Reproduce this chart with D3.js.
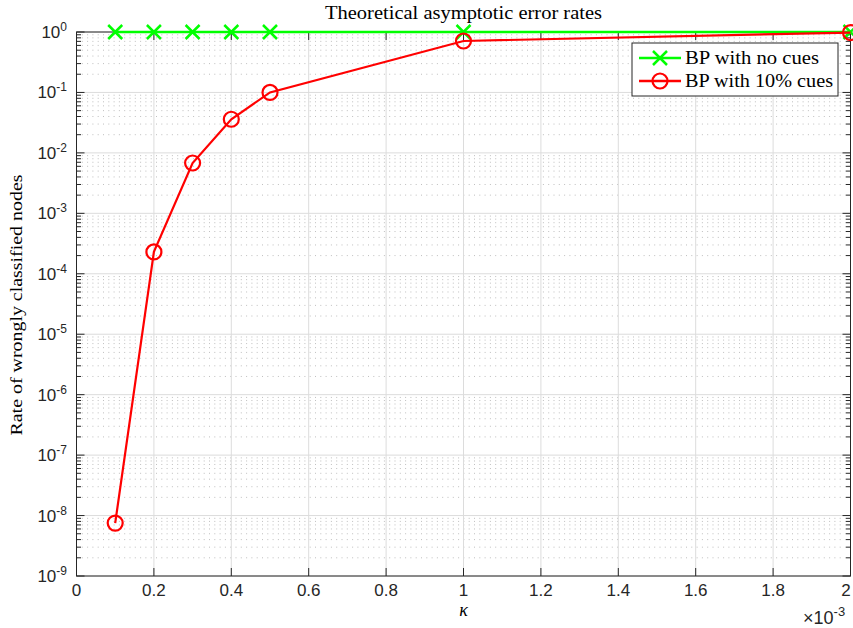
<!DOCTYPE html>
<html><head><meta charset="utf-8">
<script src="https://cdn.jsdelivr.net/npm/d3@7"></script>
<style>
html,body{margin:0;padding:0;background:#fff;}
svg{display:block;}
.tick-lbl{font-family:"Liberation Sans",Arial,Helvetica,sans-serif;fill:#262626;}
.serif{font-family:"Liberation Serif","Times New Roman",serif;fill:#000;}
</style>
</head><body>
<svg id="chart" width="853" height="628"></svg>
<script>
// ---- data ----
const kappa = [0.1, 0.2, 0.3, 0.4, 0.5, 1.0, 2.0];          // ×10^-3
const noCues = [1, 1, 1, 1, 1, 1, 1];
const tenPctCues = [7.5e-9, 2.3e-4, 6.8e-3, 0.036, 0.1, 0.71, 0.98];
const xTicks = [0, 0.2, 0.4, 0.6, 0.8, 1, 1.2, 1.4, 1.6, 1.8, 2];
const yExps = [0, -1, -2, -3, -4, -5, -6, -7, -8, -9];
const seriesNames = ["BP with no cues", "BP with 10% cues"];
const titleText = "Theoretical asymptotic error rates";
const yLabelText = "Rate of wrongly classified nodes";
const xLabelText = "κ";

// ---- layout ----
const L = 76.5, R = 850.5, T = 32, B = 576;
const svg = d3.select("#chart");
const x = d3.scaleLinear().domain([0, 2]).range([L, R]);
const y = d3.scaleLog().domain([1e-9, 1]).range([B, T]);

// minor grid (horizontal, dotted)
const minorVals = [];
for (let e = -9; e < 0; e++) for (let m = 2; m <= 9; m++) minorVals.push(m * Math.pow(10, e));
const g = svg.append("g");
g.selectAll(".mg").data(minorVals).enter().append("line")
  .attr("x1", L).attr("x2", R).attr("y1", d => y(d)).attr("y2", d => y(d))
  .attr("stroke", "#b8b8b8").attr("stroke-width", 0.9).attr("stroke-dasharray", "1,4.3");
// major grid
g.selectAll(".Mgy").data(yExps).enter().append("line")
  .attr("x1", L).attr("x2", R).attr("y1", d => y(Math.pow(10, d))).attr("y2", d => y(Math.pow(10, d)))
  .attr("stroke", "#dcdcdc").attr("stroke-width", 1);
g.selectAll(".Mgx").data(xTicks).enter().append("line")
  .attr("y1", T).attr("y2", B).attr("x1", d => x(d)).attr("x2", d => x(d))
  .attr("stroke", "#dcdcdc").attr("stroke-width", 1);

// axes frame & ticks
const ax = svg.append("g").attr("stroke", "#262626").attr("stroke-width", 1);
ax.append("rect").attr("x", L).attr("y", T).attr("width", R - L).attr("height", B - T)
  .attr("fill", "none").attr("stroke", "#262626");
xTicks.forEach(d => {
  ax.append("line").attr("x1", x(d)).attr("x2", x(d)).attr("y1", B).attr("y2", B - 8);
  ax.append("line").attr("x1", x(d)).attr("x2", x(d)).attr("y1", T).attr("y2", T + 8);
});
yExps.forEach(e => {
  const yy = y(Math.pow(10, e));
  ax.append("line").attr("x1", L).attr("x2", L + 8).attr("y1", yy).attr("y2", yy);
  ax.append("line").attr("x1", R).attr("x2", R - 8).attr("y1", yy).attr("y2", yy);
});
minorVals.forEach(v => {
  const yy = y(v);
  ax.append("line").attr("x1", L).attr("x2", L + 4.5).attr("y1", yy).attr("y2", yy);
  ax.append("line").attr("x1", R).attr("x2", R - 4.5).attr("y1", yy).attr("y2", yy);
});

// tick labels
svg.append("g").selectAll("text").data(xTicks).enter().append("text")
  .attr("class", "tick-lbl").attr("x", d => Math.min(x(d), 846)).attr("y", 596)
  .attr("text-anchor", "middle").attr("font-size", 17).text(d => d3.format("")(d));
const yl = svg.append("g").selectAll("text").data(yExps).enter().append("text")
  .attr("class", "tick-lbl").attr("x", 67).attr("y", d => y(Math.pow(10, d)) + 6)
  .attr("text-anchor", "end").attr("font-size", 17);
yl.append("tspan").text("10");
yl.append("tspan").attr("dy", -7).attr("font-size", 12).text(d => d === 0 ? "0" : "-" + Math.abs(d));
// exponent multiplier
const mult = svg.append("text").attr("class", "tick-lbl").attr("x", 803).attr("y", 624).attr("font-size", 18);
mult.append("tspan").text("×10");
mult.append("tspan").attr("dy", -8).attr("font-size", 13).text("-3");

// labels
svg.append("text").attr("class", "serif").attr("x", (L + R) / 2).attr("y", 19)
  .attr("text-anchor", "middle").attr("font-size", 18)
  .attr("textLength", 277).attr("lengthAdjust", "spacingAndGlyphs").text(titleText);
svg.append("text").attr("class", "serif").attr("fill", "#222")
  .attr("transform", `translate(22,${(T + B) / 2 + 1}) rotate(-90)`)
  .attr("text-anchor", "middle").attr("font-size", 16.5)
  .attr("textLength", 261).attr("lengthAdjust", "spacingAndGlyphs").text(yLabelText);
svg.append("text").attr("class", "serif").attr("x", (L + R) / 2).attr("y", 616)
  .attr("text-anchor", "middle").attr("font-size", 18).attr("font-style", "italic").text(xLabelText);

// series
const line = d3.line().x(d => x(d[0])).y(d => y(d[1]));
const green = "#00ff00", red = "#ff0000";
const gData = kappa.map((k, i) => [k, noCues[i]]);
const rData = kappa.map((k, i) => [k, tenPctCues[i]]);
const plot = svg.append("g");
plot.append("path").datum(gData).attr("d", line).attr("fill", "none").attr("stroke", green).attr("stroke-width", 2.5);
const xs = 7;
plot.selectAll(".gx").data(gData).enter().append("path")
  .attr("transform", d => `translate(${x(d[0])},${y(d[1])})`)
  .attr("d", `M${-xs},${-xs}L${xs},${xs}M${-xs},${xs}L${xs},${-xs}`)
  .attr("stroke", green).attr("stroke-width", 2.5).attr("fill", "none");
plot.append("path").datum(rData).attr("d", line).attr("fill", "none").attr("stroke", red).attr("stroke-width", 2.2);
plot.selectAll(".rc").data(rData).enter().append("circle")
  .attr("cx", d => x(d[0])).attr("cy", d => y(d[1])).attr("r", 7.5)
  .attr("fill", "none").attr("stroke", red).attr("stroke-width", 2.2);

// legend
const lg = svg.append("g");
lg.append("rect").attr("x", 632).attr("y", 43).attr("width", 206).attr("height", 53)
  .attr("fill", "#fff").attr("stroke", "#262626").attr("stroke-width", 1);
const legW = [134, 148];
[[green, "x"], [red, "o"]].forEach((s, i) => {
  const yy = 58 + i * 23;
  lg.append("line").attr("x1", 639).attr("x2", 681).attr("y1", yy).attr("y2", yy)
    .attr("stroke", s[0]).attr("stroke-width", 2.5);
  if (s[1] === "x") {
    lg.append("path").attr("transform", `translate(660,${yy})`)
      .attr("d", `M${-xs},${-xs}L${xs},${xs}M${-xs},${xs}L${xs},${-xs}`)
      .attr("stroke", s[0]).attr("stroke-width", 2.5);
  } else {
    lg.append("circle").attr("cx", 660).attr("cy", yy).attr("r", 7.5)
      .attr("fill", "none").attr("stroke", s[0]).attr("stroke-width", 2.2);
  }
  lg.append("text").attr("class", "serif").attr("x", 685).attr("y", yy + 6)
    .attr("font-size", 19).attr("textLength", legW[i]).attr("lengthAdjust", "spacingAndGlyphs")
    .text(seriesNames[i]);
});
</script>
</body></html>
